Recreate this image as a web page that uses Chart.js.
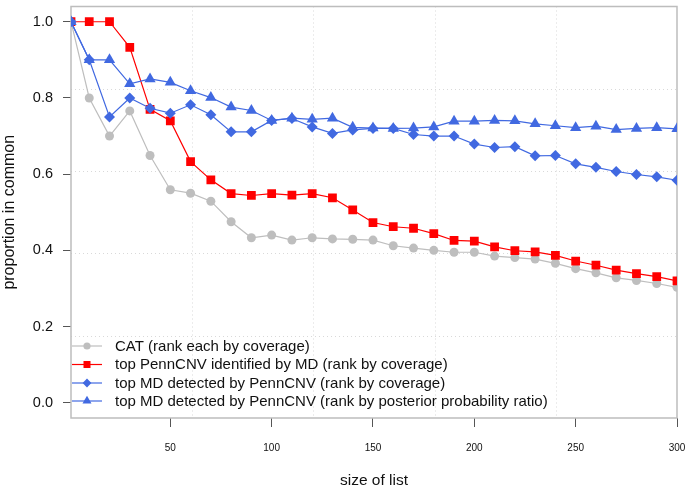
<!DOCTYPE html>
<html>
<head>
<meta charset="utf-8">
<script src="https://cdn.jsdelivr.net/npm/chart.js@4/dist/chart.umd.min.js"></script>
<style>
  html, body { margin: 0; padding: 0; background: #fff; }
  #wrap { width: 685px; height: 492px; }
</style>
</head>
<body>
<div id="wrap"><canvas id="chart" width="685" height="492"></canvas></div>
<script>
// list sizes (x) and the four overlap curves
var listSize = [1, 10, 20, 30, 40, 50, 60, 70, 80, 90, 100, 110, 120, 130, 140, 150,
  160, 170, 180, 190, 200, 210, 220, 230, 240, 250, 260, 270, 280, 290, 300];

var catCoverage = [1.0, 0.80, 0.70, 0.766, 0.649, 0.559, 0.550, 0.529, 0.475, 0.433, 0.440,
  0.427, 0.433, 0.430, 0.429, 0.427, 0.412, 0.406, 0.400, 0.395, 0.395, 0.385, 0.381,
  0.377, 0.366, 0.352, 0.341, 0.328, 0.321, 0.313, 0.303];

var pennByMD = [1.0, 1.0, 1.0, 0.933, 0.770, 0.740, 0.633, 0.585, 0.549, 0.544, 0.549,
  0.545, 0.549, 0.538, 0.506, 0.473, 0.462, 0.458, 0.444, 0.426, 0.424, 0.409, 0.399,
  0.396, 0.387, 0.372, 0.361, 0.348, 0.339, 0.331, 0.320];

var mdByPennCoverage = [1.0, 0.90, 0.75, 0.80, 0.773, 0.760, 0.782, 0.756, 0.711, 0.711, 0.741,
  0.746, 0.724, 0.707, 0.716, 0.720, 0.720, 0.704, 0.700, 0.700, 0.679, 0.670, 0.672,
  0.648, 0.649, 0.627, 0.618, 0.607, 0.599, 0.593, 0.584];

var mdByPennRatio = [1.0, 0.90, 0.90, 0.837, 0.850, 0.841, 0.819, 0.801, 0.776, 0.767, 0.741,
  0.747, 0.744, 0.747, 0.723, 0.721, 0.720, 0.721, 0.724, 0.739, 0.739, 0.741, 0.740,
  0.732, 0.727, 0.722, 0.726, 0.717, 0.720, 0.722, 0.719];

var legendLabels = [
  'CAT (rank each by coverage)',
  'top PennCNV identified by MD (rank by coverage)',
  'top MD detected by PennCNV (rank by coverage)',
  'top MD detected by PennCNV (rank by posterior probability ratio)'
];

var xTicks = [50, 100, 150, 200, 250, 300];
var yTicks = [0, 0.2, 0.4, 0.6, 0.8, 1.0];
// dotted grid as R's grid() puts it (5 cells over the plot range)
var gridX = [60.8, 120.6, 180.4, 240.2];
var gridY = [0.176, 0.392, 0.608, 0.824];

var GRAY = '#bebebe', RED = '#ff0000', BLUE = '#4169e1';
var FONT = '"Liberation Sans", Arial, sans-serif';

function toPoints(ys) {
  return listSize.map(function (x, i) { return { x: x, y: ys[i] }; });
}

var series = [
  { label: legendLabels[0], data: catCoverage, color: GRAY, style: 'circle', radius: 4.5 },
  { label: legendLabels[1], data: pennByMD, color: RED, style: 'rect', radius: 6.2 },
  { label: legendLabels[2], data: mdByPennCoverage, color: BLUE, style: 'rectRot', radius: 5.5 },
  { label: legendLabels[3], data: mdByPennRatio, color: BLUE, style: 'triangle', radius: 6.5 }
];

// Chart.js paints dataset 0 last, so reverse to keep the triangles on top
var datasets = series.slice().reverse().map(function (s) {
  return {
    label: s.label,
    data: toPoints(s.data),
    borderColor: s.color,
    backgroundColor: s.color,
    borderWidth: 1.2,
    pointStyle: s.style,
    pointRadius: s.radius,
    pointBorderWidth: 0,
    pointBackgroundColor: s.color,
    pointHoverRadius: s.radius,
    tension: 0
  };
});

// no extra room for overhanging tick labels: the box fills the frame like R's plot
function noPad(scale) {
  scale.paddingLeft = 0; scale.paddingRight = 0;
  scale.paddingTop = 0; scale.paddingBottom = 0;
}

var boxAndGrid = {
  id: 'boxAndGrid',
  beforeDatasetsDraw: function (chart) {
    var ctx = chart.ctx, a = chart.chartArea;
    var xs = chart.scales.x, ys = chart.scales.y;
    ctx.save();
    ctx.strokeStyle = '#d9d9d9';
    ctx.lineWidth = 1;
    ctx.setLineDash([1, 3]);
    gridX.forEach(function (v) {
      var px = Math.round(xs.getPixelForValue(v)) + 0.5;
      ctx.beginPath(); ctx.moveTo(px, a.top); ctx.lineTo(px, a.bottom); ctx.stroke();
    });
    gridY.forEach(function (v) {
      var py = Math.round(ys.getPixelForValue(v)) + 0.5;
      ctx.beginPath(); ctx.moveTo(a.left, py); ctx.lineTo(a.right, py); ctx.stroke();
    });
    ctx.setLineDash([]);
    ctx.strokeStyle = '#bdbdbd';
    ctx.lineWidth = 1.5;
    ctx.strokeRect(a.left, a.top, a.right - a.left, a.bottom - a.top);
    ctx.restore();
  },
  afterDraw: function (chart) {
    // legend inside the plot, bottom-left, no frame
    var ctx = chart.ctx;
    var rows = [346, 364.5, 383, 401];
    ctx.save();
    ctx.font = '15px ' + FONT;
    ctx.textBaseline = 'middle';
    ctx.textAlign = 'left';
    series.forEach(function (s, i) {
      var y = rows[i];
      ctx.strokeStyle = s.color;
      ctx.lineWidth = 1.2;
      ctx.beginPath(); ctx.moveTo(72, y); ctx.lineTo(102, y); ctx.stroke();
      ctx.fillStyle = s.color;
      Chart.helpers.drawPoint(ctx, {
        pointStyle: s.style, radius: s.radius * 0.8, rotation: 0, borderWidth: 0
      }, 87, y);
      ctx.fillStyle = '#111';
      ctx.fillText(s.label, 115, y + 0.5);
    });
    ctx.restore();
  }
};

new Chart(document.getElementById('chart').getContext('2d'), {
  type: 'line',
  data: { datasets: datasets },
  plugins: [boxAndGrid],
  options: {
    responsive: false,
    animation: false,
    layout: { padding: { top: 4, right: 8, left: 0, bottom: 0 } },
    plugins: { legend: { display: false }, tooltip: { enabled: false } },
    scales: {
      x: {
        type: 'linear',
        min: 1,
        max: 300,
        afterBuildTicks: function (scale) {
          scale.ticks = xTicks.map(function (v) { return { value: v }; });
        },
        afterFit: function (scale) { scale.height = 74; noPad(scale); },
        border: { display: false },
        grid: { drawOnChartArea: false, drawTicks: true, tickLength: 9, color: '#555', tickWidth: 1 },
        ticks: { font: { family: FONT, size: 10 }, color: '#111', padding: 15.5, maxRotation: 0, autoSkip: false },
        title: {
          display: true, text: 'size of list', color: '#111',
          font: { family: FONT, size: 15.5 }, padding: { top: 0, bottom: 2 }
        }
      },
      y: {
        min: -0.04,
        max: 1.04,
        afterBuildTicks: function (scale) {
          scale.ticks = yTicks.map(function (v) { return { value: v }; });
        },
        afterFit: function (scale) { scale.width = 71; noPad(scale); },
        border: { display: false },
        grid: { drawOnChartArea: false, drawTicks: true, tickLength: 8, color: '#555', tickWidth: 1 },
        ticks: {
          font: { family: FONT, size: 14.5 }, color: '#111', padding: 10,
          callback: function (v) { return Number(v).toFixed(1); }
        },
        title: {
          display: true, text: 'proportion in common', color: '#111',
          font: { family: FONT, size: 16 }, padding: { top: 0, bottom: 4.5 }
        }
      }
    }
  }
});
</script>
</body>
</html>
